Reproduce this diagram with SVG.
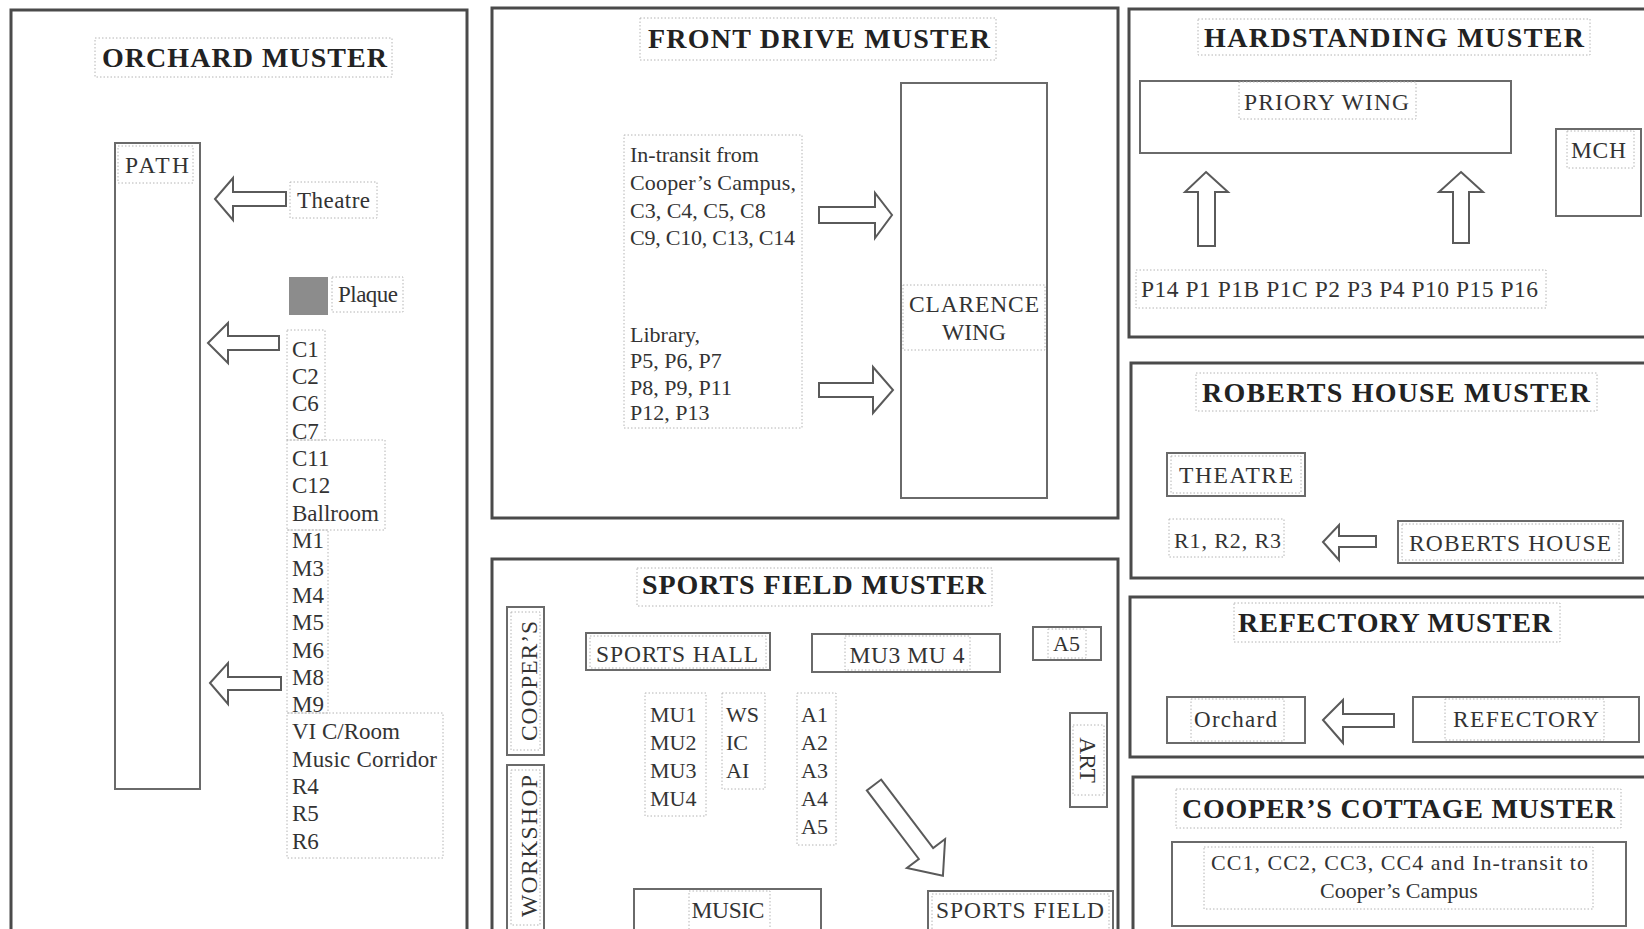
<svg xmlns="http://www.w3.org/2000/svg" width="1644" height="929" viewBox="0 0 1644 929">
<style>
.frame{fill:none;stroke:#4a4a4a;stroke-width:3}
.box{fill:none;stroke:#6a6a6a;stroke-width:2}
.dot{fill:none;stroke:#b4b4b4;stroke-width:1;stroke-dasharray:1.5 2}
.arrow{fill:#fff;stroke:#5a5a5a;stroke-width:2;stroke-linejoin:miter}
.title{font-family:"Liberation Serif",serif;font-weight:bold;font-size:28px;fill:#222}
.t{font-family:"Liberation Serif",serif;font-size:22px;fill:#333}
.c{font-family:"Liberation Serif",serif;font-size:23.5px;fill:#333}
.tl{font-family:"Liberation Serif",serif;font-size:23px;fill:#333}
</style>
<rect width="1644" height="929" fill="#fff"/>

<g id="orchard-muster">
<rect class="frame" x="11" y="10" width="456" height="930"/>
<rect class="dot" x="95" y="38" width="297" height="39"/>
<text class="title" x="102" y="67" textLength="285" lengthAdjust="spacing">ORCHARD MUSTER</text>
</g>
<g id="path">
<rect class="box" x="115" y="143" width="85" height="646"/>
<rect class="dot" x="118" y="146" width="75" height="37"/>
<text class="c" x="125" y="173" textLength="64" lengthAdjust="spacing">PATH</text>
</g>
<g id="theatre">
<rect class="dot" x="290" y="182" width="87" height="36"/>
<text class="tl" x="297" y="208" textLength="73" lengthAdjust="spacing">Theatre</text>
</g>
<g id="plaque">
<rect x="289" y="277" width="39" height="38" fill="#8c8c8c"/>
<rect class="dot" x="332" y="277" width="71" height="35"/>
<text class="tl" x="338" y="302" textLength="60" lengthAdjust="spacing">Plaque</text>
</g>
<g id="orchard-list">
<rect class="dot" x="287" y="330" width="38" height="110"/>
<rect class="dot" x="287" y="440" width="98" height="90"/>
<rect class="dot" x="287" y="530" width="41" height="183"/>
<rect class="dot" x="287" y="713" width="156" height="145"/>
<text class="tl" x="292" y="357">C1</text>
<text class="tl" x="292" y="384">C2</text>
<text class="tl" x="292" y="411">C6</text>
<text class="tl" x="292" y="439">C7</text>
<text class="tl" x="292" y="466">C11</text>
<text class="tl" x="292" y="493">C12</text>
<text class="tl" x="292" y="521">Ballroom</text>
<text class="tl" x="292" y="548">M1</text>
<text class="tl" x="292" y="576">M3</text>
<text class="tl" x="292" y="603">M4</text>
<text class="tl" x="292" y="630">M5</text>
<text class="tl" x="292" y="658">M6</text>
<text class="tl" x="292" y="685">M8</text>
<text class="tl" x="292" y="712">M9</text>
<text class="tl" x="292" y="739">VI C/Room</text>
<text class="tl" x="292" y="767" textLength="145" lengthAdjust="spacing">Music Corridor</text>
<text class="tl" x="292" y="794">R4</text>
<text class="tl" x="292" y="821">R5</text>
<text class="tl" x="292" y="849">R6</text>
</g>

<g id="front-drive-muster">
<rect class="frame" x="492" y="8" width="626" height="510"/>
<rect class="dot" x="640" y="18" width="356" height="42"/>
<text class="title" x="648" y="48" textLength="342" lengthAdjust="spacing">FRONT DRIVE MUSTER</text>
</g>
<g id="front-drive-list">
<rect class="dot" x="624" y="135" width="178" height="293"/>
<text class="t" x="630" y="162">In-transit from</text>
<text class="t" x="630" y="190" textLength="166" lengthAdjust="spacing">Cooper’s Campus,</text>
<text class="t" x="630" y="218">C3, C4, C5, C8</text>
<text class="t" x="630" y="245" textLength="165" lengthAdjust="spacing">C9, C10, C13, C14</text>
<text class="t" x="630" y="342">Library,</text>
<text class="t" x="630" y="368">P5, P6, P7</text>
<text class="t" x="630" y="395">P8, P9, P11</text>
<text class="t" x="630" y="420">P12, P13</text>
</g>
<g id="clarence-wing">
<rect class="box" x="901" y="83" width="146" height="415"/>
<rect class="dot" x="903" y="285" width="142" height="65"/>
<text class="c" x="974" y="312" text-anchor="middle" textLength="130" lengthAdjust="spacing">CLARENCE</text>
<text class="c" x="974" y="340" text-anchor="middle">WING</text>
</g>

<g id="sports-field-muster">
<rect class="frame" x="492" y="559" width="626" height="380"/>
<rect class="dot" x="637" y="568" width="355" height="38"/>
<text class="title" x="642" y="594" textLength="344" lengthAdjust="spacing">SPORTS FIELD MUSTER</text>
</g>
<g id="coopers">
<rect class="box" x="507" y="607" width="37" height="148"/>
<rect class="dot" x="511" y="612" width="29" height="138"/>
<text class="c" transform="translate(537,681) rotate(-90)" text-anchor="middle" textLength="120" lengthAdjust="spacing">COOPER’S</text>
</g>
<g id="workshop">
<rect class="box" x="507" y="765" width="37" height="175"/>
<rect class="dot" x="511" y="770" width="29" height="155"/>
<text class="c" transform="translate(537,846) rotate(-90)" text-anchor="middle" textLength="142" lengthAdjust="spacing">WORKSHOP</text>
</g>
<g id="sports-hall">
<rect class="box" x="586" y="633" width="184" height="37"/>
<rect class="dot" x="590" y="636" width="176" height="32"/>
<text class="c" x="596" y="662" textLength="162" lengthAdjust="spacing">SPORTS HALL</text>
</g>
<g id="mu3-mu4">
<rect class="box" x="812" y="634" width="188" height="38"/>
<rect class="dot" x="845" y="636" width="125" height="34"/>
<text class="c" x="907" y="663" text-anchor="middle" textLength="115" lengthAdjust="spacing">MU3 MU 4</text>
</g>
<g id="a5-top">
<rect class="box" x="1033" y="627" width="68" height="33"/>
<rect class="dot" x="1048" y="629" width="38" height="29"/>
<text class="t" x="1053" y="651">A5</text>
</g>
<g id="art">
<rect class="box" x="1070" y="713" width="37" height="94"/>
<rect class="dot" x="1073" y="725" width="31" height="70"/>
<text class="c" transform="translate(1080,760) rotate(90)" text-anchor="middle">ART</text>
</g>
<g id="mu-list">
<rect class="dot" x="645" y="693" width="61" height="123"/>
<text class="t" x="650" y="722">MU1</text>
<text class="t" x="650" y="750">MU2</text>
<text class="t" x="650" y="778">MU3</text>
<text class="t" x="650" y="806">MU4</text>
</g>
<g id="ws-list">
<rect class="dot" x="722" y="693" width="43" height="96"/>
<text class="t" x="726" y="722">WS</text>
<text class="t" x="726" y="750">IC</text>
<text class="t" x="726" y="778">AI</text>
</g>
<g id="a-list">
<rect class="dot" x="797" y="693" width="39" height="152"/>
<text class="t" x="801" y="722">A1</text>
<text class="t" x="801" y="750">A2</text>
<text class="t" x="801" y="778">A3</text>
<text class="t" x="801" y="806">A4</text>
<text class="t" x="801" y="834">A5</text>
</g>
<g id="music">
<rect class="box" x="634" y="889" width="187" height="50"/>
<rect class="dot" x="689" y="891" width="81" height="45"/>
<text class="c" x="728" y="918" text-anchor="middle" textLength="73" lengthAdjust="spacing">MUSIC</text>
</g>
<g id="sports-field">
<rect class="box" x="928" y="891" width="185" height="48"/>
<rect class="dot" x="932" y="894" width="177" height="40"/>
<text class="c" x="936" y="918" textLength="168" lengthAdjust="spacing">SPORTS FIELD</text>
</g>

<g id="hardstanding-muster">
<rect class="frame" x="1129" y="9" width="530" height="328"/>
<rect class="dot" x="1198" y="19" width="392" height="36"/>
<text class="title" x="1204" y="47" textLength="380" lengthAdjust="spacing">HARDSTANDING MUSTER</text>
</g>
<g id="priory-wing">
<rect class="box" x="1140" y="81" width="371" height="72"/>
<rect class="dot" x="1239" y="82" width="177" height="37"/>
<text class="c" x="1244" y="110" textLength="165" lengthAdjust="spacing">PRIORY WING</text>
</g>
<g id="mch">
<rect class="box" x="1556" y="129" width="85" height="87"/>
<rect class="dot" x="1567" y="131" width="67" height="37"/>
<text class="c" x="1571" y="158" textLength="55" lengthAdjust="spacing">MCH</text>
</g>
<g id="hardstanding-list">
<rect class="dot" x="1136" y="270" width="410" height="38"/>
<text class="c" x="1141" y="297" textLength="397" lengthAdjust="spacing">P14 P1 P1B P1C P2 P3 P4 P10 P15 P16</text>
</g>

<g id="roberts-house-muster">
<rect class="frame" x="1131" y="363" width="530" height="215"/>
<rect class="dot" x="1196" y="373" width="401" height="38"/>
<text class="title" x="1202" y="402" textLength="388" lengthAdjust="spacing">ROBERTS HOUSE MUSTER</text>
</g>
<g id="theatre-r">
<rect class="box" x="1167" y="453" width="138" height="43"/>
<rect class="dot" x="1171" y="456" width="130" height="37"/>
<text class="c" x="1179" y="483" textLength="114" lengthAdjust="spacing">THEATRE</text>
</g>
<g id="r1-r3">
<rect class="dot" x="1169" y="519" width="115" height="38"/>
<text class="t" x="1174" y="548" textLength="107" lengthAdjust="spacing">R1, R2, R3</text>
</g>
<g id="roberts-house">
<rect class="box" x="1398" y="521" width="225" height="42"/>
<rect class="dot" x="1402" y="524" width="217" height="36"/>
<text class="c" x="1409" y="551" textLength="202" lengthAdjust="spacing">ROBERTS HOUSE</text>
</g>

<g id="refectory-muster">
<rect class="frame" x="1130" y="597" width="530" height="160"/>
<rect class="dot" x="1234" y="603" width="326" height="39"/>
<text class="title" x="1238" y="632" textLength="314" lengthAdjust="spacing">REFECTORY MUSTER</text>
</g>
<g id="orchard-r">
<rect class="box" x="1167" y="697" width="138" height="46"/>
<rect class="dot" x="1191" y="699" width="93" height="42"/>
<text class="tl" x="1194" y="727" textLength="83" lengthAdjust="spacing">Orchard</text>
</g>
<g id="refectory">
<rect class="box" x="1413" y="697" width="226" height="45"/>
<rect class="dot" x="1445" y="699" width="159" height="41"/>
<text class="c" x="1453" y="727" textLength="146" lengthAdjust="spacing">REFECTORY</text>
</g>

<g id="coopers-cottage-muster">
<rect class="frame" x="1133" y="777" width="530" height="170"/>
<rect class="dot" x="1176" y="789" width="445" height="39"/>
<text class="title" x="1182" y="818" textLength="433" lengthAdjust="spacing">COOPER’S COTTAGE MUSTER</text>
</g>
<g id="coopers-cottage">
<rect class="box" x="1172" y="842" width="454" height="84"/>
<rect class="dot" x="1204" y="847" width="389" height="62"/>
<text class="t" x="1211" y="870" textLength="377" lengthAdjust="spacing">CC1, CC2, CC3, CC4 and In-transit to</text>
<text class="t" x="1399" y="898" text-anchor="middle">Cooper’s Campus</text>
</g>

<g id="connectors">
<path class="arrow" d="M215,199 L233,178 L233,192 L286,192 L286,206 L233,206 L233,220 Z"/>
<path class="arrow" d="M208,343 L228,323 L228,336 L279,336 L279,350 L228,350 L228,363 Z"/>
<path class="arrow" d="M210,683 L228,663 L228,677 L281,677 L281,690 L228,690 L228,704 Z"/>
<path class="arrow" d="M819,207 L875,207 L875,193 L892,215 L875,238 L875,223 L819,223 Z"/>
<path class="arrow" d="M819,383 L873,383 L873,367 L893,390 L873,413 L873,397 L819,397 Z"/>
<path class="arrow" transform="translate(874,785) rotate(52.8)" d="M0,-9 L86,-9 L86,-24 L114,0 L86,24 L86,9 L0,9 Z"/>
<path class="arrow" d="M1206,172 L1228,192 L1215,192 L1215,246 L1198,246 L1198,192 L1185,192 Z"/>
<path class="arrow" d="M1461,172 L1483,192 L1469,192 L1469,243 L1453,243 L1453,192 L1439,192 Z"/>
<path class="arrow" d="M1323,542 L1339,525 L1339,536 L1376,536 L1376,547 L1339,547 L1339,560 Z"/>
<path class="arrow" d="M1323,720 L1343,700 L1343,714 L1394,714 L1394,727 L1343,727 L1343,743 Z"/>
</g>
</svg>
